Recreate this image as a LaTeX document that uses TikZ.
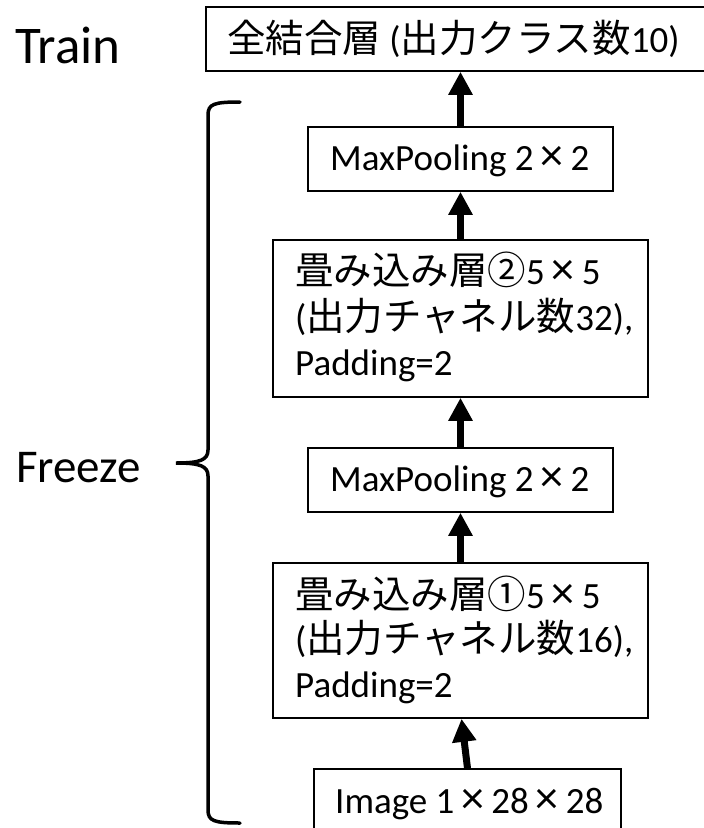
\documentclass[tikz,border=0pt]{standalone}
\usepackage{fontspec}
\setmainfont[Numbers=Lining]{Carlito}
\newfontfamily\jp[Scale=1.04]{Noto Sans CJK JP}
\usetikzlibrary{arrows.meta}
\newcommand{\tms}{\makebox[1em]{\fontsize{46}{46}\selectfont ×}}
\begin{document}
\begin{tikzpicture}[x=1pt,y=-1pt,
  box/.style={draw=black, line width=1.6pt, inner sep=0pt, fill=white},
  txt/.style={anchor=base west, inner sep=0pt, font=\fontsize{37}{44}\selectfont},
  big/.style={anchor=base west, inner sep=0pt, font=\fontsize{47}{54}\selectfont},
  arr/.style={line width=7pt, -{Triangle[width=23pt,length=23pt]}},
  brace/.style={line width=3.5pt, line cap=round}]
\useasboundingbox (0,0) rectangle (704,828);
% boxes
\node[box, minimum width=506pt, minimum height=64pt] (top) at (459,39) {};
\node[box, minimum width=305pt, minimum height=64pt] (mp1) at (460.5,159) {};
\node[box, minimum width=375pt, minimum height=157pt] (conv2) at (460.5,318.5) {};
\node[box, minimum width=305pt, minimum height=64pt] (mp2) at (460.5,480) {};
\node[box, minimum width=375pt, minimum height=155pt] (conv1) at (460.5,640.5) {};
\node[box, minimum width=307pt, minimum height=71pt] (img) at (467.5,804.5) {};
% texts
\node[big, font=\fontsize{53}{60}\selectfont] (train) at (15,63) {Train};
\node[big] (freeze) at (16,482) {Freeze};
\node[txt] (ttop) at (227,52) {{\jp 全結合層} ({\jp 出力クラス数}10)};
\node[txt] (tmp1) at (330,170) {MaxPooling 2\tms2};
\node[txt] (tc2a) at (295,284) {{\jp 畳み込み層②}5\tms5};
\node[txt] (tc2b) at (295,330) {({\jp 出力チャネル数}32),};
\node[txt] (tc2c) at (295,375) {Padding=2};
\node[txt] (tmp2) at (330,491) {MaxPooling 2\tms2};
\node[txt] (tc1a) at (295,608) {{\jp 畳み込み層①}5\tms5};
\node[txt] (tc1b) at (295,652) {({\jp 出力チャネル数}16),};
\node[txt] (tc1c) at (295,697) {Padding=2};
\node[txt] (timg) at (335,813) {Image 1\tms28\tms28};
% arrows
\draw[arr] (mp1.north) -- (mp1.north |- top.south);
\draw[arr] (conv2.north) -- (conv2.north |- mp1.south);
\draw[arr] (mp2.north) -- (mp2.north |- conv2.south);
\draw[arr] (conv1.north) -- (conv1.north |- mp2.south);
\draw[arr] (img.north) -- ([xshift=-6pt]img.north |- conv1.south);
% brace
\draw[brace] (240,102) .. controls (214,102) and (208,104) .. (208,115)
  -- (208,450) .. controls (208,460) and (200,463) .. (176,463)
  .. controls (200,463) and (208,466) .. (208,476)
  -- (208,810) .. controls (208,821) and (214,823) .. (240,823);
\end{tikzpicture}
\end{document}
